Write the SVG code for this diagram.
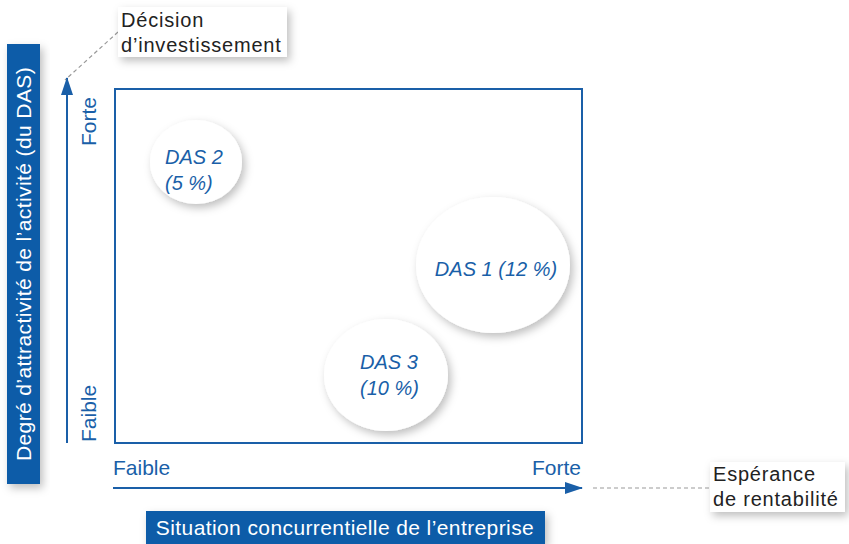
<svg xmlns="http://www.w3.org/2000/svg" width="849" height="544" viewBox="0 0 849 544">
<defs>
<filter id="sh" x="-30%" y="-30%" width="160%" height="160%">
<feDropShadow dx="3" dy="4" stdDeviation="4" flood-color="#000" flood-opacity="0.25"/>
</filter>
<marker id="ah2" markerWidth="18" markerHeight="12" refX="17" refY="6" orient="auto" markerUnits="userSpaceOnUse" viewBox="0 0 18 12">
<path d="M0,0 L18,6 L0,12 z" fill="#1a5fa8"/>
</marker>
</defs>
<style>
.t{font-family:"Liberation Sans","DejaVu Sans",sans-serif;}
.blue{fill:#1a5fa8;font-size:21px;}
.circ{fill:#fff;filter:url(#sh);}
.ct{fill:#1a5fa8;font-size:20px;font-style:italic;}
.lbl{fill:#222;font-size:20px;letter-spacing:0.8px;}
.wt{fill:#fff;font-size:21px;letter-spacing:0.4px;}
.dash{stroke:#999;stroke-width:1.2;stroke-dasharray:4 3;fill:none;}
.axis{stroke:#1a5fa8;stroke-width:2;fill:none;}
</style>
<rect x="115" y="89" width="467" height="354" fill="#fff" stroke="#1a5fa8" stroke-width="2"/>
<g id="connectors">
<line class="axis" x1="67" y1="443" x2="67" y2="78" marker-end="url(#ah2)"/>
<line class="axis" x1="113" y1="488" x2="582" y2="488" marker-end="url(#ah2)"/>
<line class="dash" x1="118" y1="32" x2="65" y2="80"/>
<line class="dash" x1="593" y1="488" x2="710" y2="488"/>
</g>
<g id="yaxis-title">
<rect x="7" y="44" width="33" height="440" fill="#0a5ca8" filter="url(#sh)"/>
<text class="t wt" transform="translate(31,264) rotate(-90)" text-anchor="middle">Degré d’attractivité de l’activité (du DAS)</text>
</g>
<g id="y-labels">
<text class="t blue" transform="translate(96,146) rotate(-90)">Forte</text>
<text class="t blue" transform="translate(96,442) rotate(-90)">Faible</text>
</g>
<g id="x-labels">
<text class="t blue" x="113" y="475">Faible</text>
<text class="t blue" x="581" y="475" text-anchor="end">Forte</text>
</g>
<g id="xaxis-title">
<rect x="146" y="511" width="399" height="33" fill="#0a5ca8" filter="url(#sh)"/>
<text class="t wt" x="345" y="535" text-anchor="middle">Situation concurrentielle de l’entreprise</text>
</g>
<g id="decision">
<rect x="118" y="7" width="169" height="50" fill="#fff" filter="url(#sh)"/>
<text class="t lbl" x="121" y="27">Décision</text>
<text class="t lbl" x="121" y="52">d’investissement</text>
</g>
<g id="esperance">
<rect x="710" y="462" width="135" height="50" fill="#fff" filter="url(#sh)"/>
<text class="t lbl" x="713" y="481">Espérance</text>
<text class="t lbl" x="713" y="506">de rentabilité</text>
</g>
<g id="das2">
<ellipse class="circ" cx="196" cy="162" rx="46" ry="42"/>
<text class="t ct" x="165" y="164">DAS 2</text>
<text class="t ct" x="165" y="190">(5 %)</text>
</g>
<g id="das1">
<ellipse class="circ" cx="493" cy="265" rx="77" ry="68"/>
<text class="t ct" x="496" y="276" text-anchor="middle">DAS 1 (12 %)</text>
</g>
<g id="das3">
<ellipse class="circ" cx="386" cy="375" rx="62" ry="56"/>
<text class="t ct" x="360" y="369">DAS 3</text>
<text class="t ct" x="360" y="395">(10 %)</text>
</g>
</svg>
